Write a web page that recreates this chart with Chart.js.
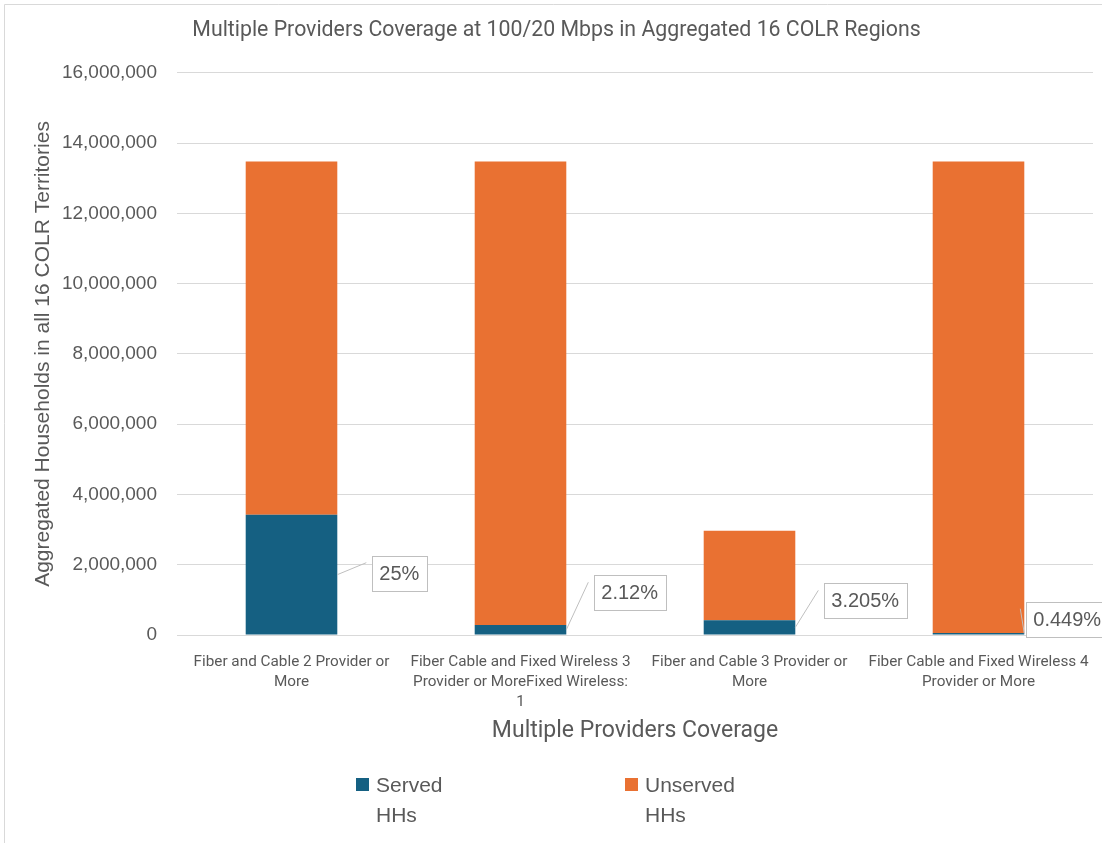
<!DOCTYPE html>
<html><head><meta charset="utf-8">
<script src="https://cdn.jsdelivr.net/npm/chart.js@4"></script>
<style>html,body{margin:0;padding:0;background:#fff;}#wrap{position:relative;width:1102px;height:843px;}</style>
</head><body><div id="wrap"><canvas id="c" width="1102" height="843"></canvas></div>
<script>
// ---- data ----
const chartTitle = "Multiple Providers Coverage at 100/20 Mbps in Aggregated 16 COLR Regions";
const xAxisTitle = "Multiple Providers Coverage";
const yAxisTitle = "Aggregated Households in all 16 COLR Territories";
const categories = [
  ["Fiber and Cable 2 Provider or", "More"],
  ["Fiber Cable and Fixed Wireless 3", "Provider or MoreFixed Wireless:", "1"],
  ["Fiber and Cable 3 Provider or", "More"],
  ["Fiber Cable and Fixed Wireless 4", "Provider or More"]
];
const seriesNames = ["Served HHs", "Unserved HHs"];
const servedHHs = [3420000, 285000, 420000, 60000];
const unservedHHs = [10060000, 13195000, 2550000, 13420000];
const servedPctLabels = ["25%", "2.12%", "3.205%", "0.449%"];
const yTickValues = [0, 2000000, 4000000, 6000000, 8000000, 10000000, 12000000, 14000000, 16000000];

// ---- styles ----
const COLORS = ["#156082", "#E97132"];
const TEXT = "#595959";
const GRID = "#d9d9d9";
const COND = "Roboto, 'Liberation Sans', sans-serif";
const ARIAL = "'Liberation Sans', Arial, sans-serif";
// label box placement relative to bar right edge / segment middle
const labelOffsets = [{dx: 35, dy: -1.5}, {dx: 28, dy: -37}, {dx: 29, dy: -26.5}, {dx: 2, dy: -14.5}];
const legendPos = [{x: 356, y: 778}, {x: 625, y: 778}];

const overlay = {
  id: 'overlay',
  beforeDraw(chart) {
    const ctx = chart.ctx;
    ctx.save();
    ctx.strokeStyle = GRID; ctx.lineWidth = 1;
    ctx.beginPath(); ctx.moveTo(4.5, 843); ctx.lineTo(4.5, 4.5); ctx.lineTo(1102, 4.5); ctx.stroke();
    ctx.restore();
  },
  afterDatasetsDraw(chart) {
    const ctx = chart.ctx;
    const meta = chart.getDatasetMeta(0);
    ctx.save();
    ctx.font = "20px " + ARIAL;
    meta.data.forEach((bar, i) => {
      const right = bar.x + bar.width / 2;
      const mid = (bar.y + bar.base) / 2;
      const off = labelOffsets[i];
      const txt = servedPctLabels[i];
      const w = ctx.measureText(txt).width + 15;
      const h = 35;
      const bx = right + off.dx, by = mid + off.dy - h / 2;
      ctx.strokeStyle = "#bfbfbf"; ctx.lineWidth = 1;
      ctx.beginPath(); ctx.moveTo(right, mid); ctx.lineTo(bx - 6, by + 7); ctx.stroke();
      ctx.fillStyle = "#fff"; ctx.fillRect(bx, by, w, h);
      ctx.strokeStyle = "#bfbfbf";
      ctx.strokeRect(Math.round(bx) + 0.5, Math.round(by) + 0.5, Math.round(w), Math.round(h));
      ctx.fillStyle = TEXT; ctx.textAlign = "left"; ctx.textBaseline = "middle";
      ctx.fillText(txt, bx + 7, by + h / 2 + 1);
    });
    // legend
    ctx.font = "21px " + ARIAL;
    ctx.textBaseline = "alphabetic";
    seriesNames.forEach((name, i) => {
      const p = legendPos[i];
      ctx.fillStyle = COLORS[i];
      ctx.fillRect(p.x, p.y, 13, 13);
      ctx.fillStyle = TEXT;
      name.split(" ").forEach((line, j) => ctx.fillText(line, p.x + 20, p.y + 14 + j * 30));
    });
    ctx.restore();
  }
};

new Chart(document.getElementById('c'), {
  type: 'bar',
  data: {
    labels: categories,
    datasets: [
      {label: seriesNames[0], data: servedHHs, backgroundColor: COLORS[0], barPercentage: 0.4, categoryPercentage: 1.0},
      {label: seriesNames[1], data: unservedHHs, backgroundColor: COLORS[1], barPercentage: 0.4, categoryPercentage: 1.0}
    ]
  },
  options: {
    responsive: false, animation: false,
    layout: {padding: {left: 20, right: 9, top: 0, bottom: 0}},
    plugins: {
      legend: {display: false},
      tooltip: {enabled: false},
      title: {display: true, text: chartTitle, color: TEXT,
        font: {family: COND, size: 21.3, weight: 'normal'},
        padding: {top: 18, bottom: 29.4}}
    },
    scales: {
      x: {
        stacked: true,
        grid: {display: false, drawTicks: false},
        border: {display: false},
        ticks: {color: TEXT, font: {family: COND, size: 15.3, lineHeight: 1.31}, padding: 17, maxRotation: 0, autoSkip: false},
        title: {display: true, text: xAxisTitle, color: TEXT, font: {family: COND, size: 23}, padding: {top: 0, bottom: 98.2}},
        afterFit(s) { s.height = 208; s.paddingLeft = 0; s.paddingRight = 0; }
      },
      y: {
        stacked: true, min: 0, max: 16000000,
        afterBuildTicks(s) { s.ticks = yTickValues.map(v => ({value: v})); },
        ticks: {color: TEXT, font: {family: ARIAL, size: 19}, padding: 20,
          callback: v => Number(v).toLocaleString('en-US')},
        grid: {color: GRID, drawTicks: false},
        border: {display: false},
        title: {display: true, text: yAxisTitle, color: TEXT, font: {family: ARIAL, size: 21}, padding: {top: 10.4, bottom: 0}},
        afterFit(s) { s.width = 157; }
      }
    }
  },
  plugins: [overlay]
});
</script>
</body></html>
